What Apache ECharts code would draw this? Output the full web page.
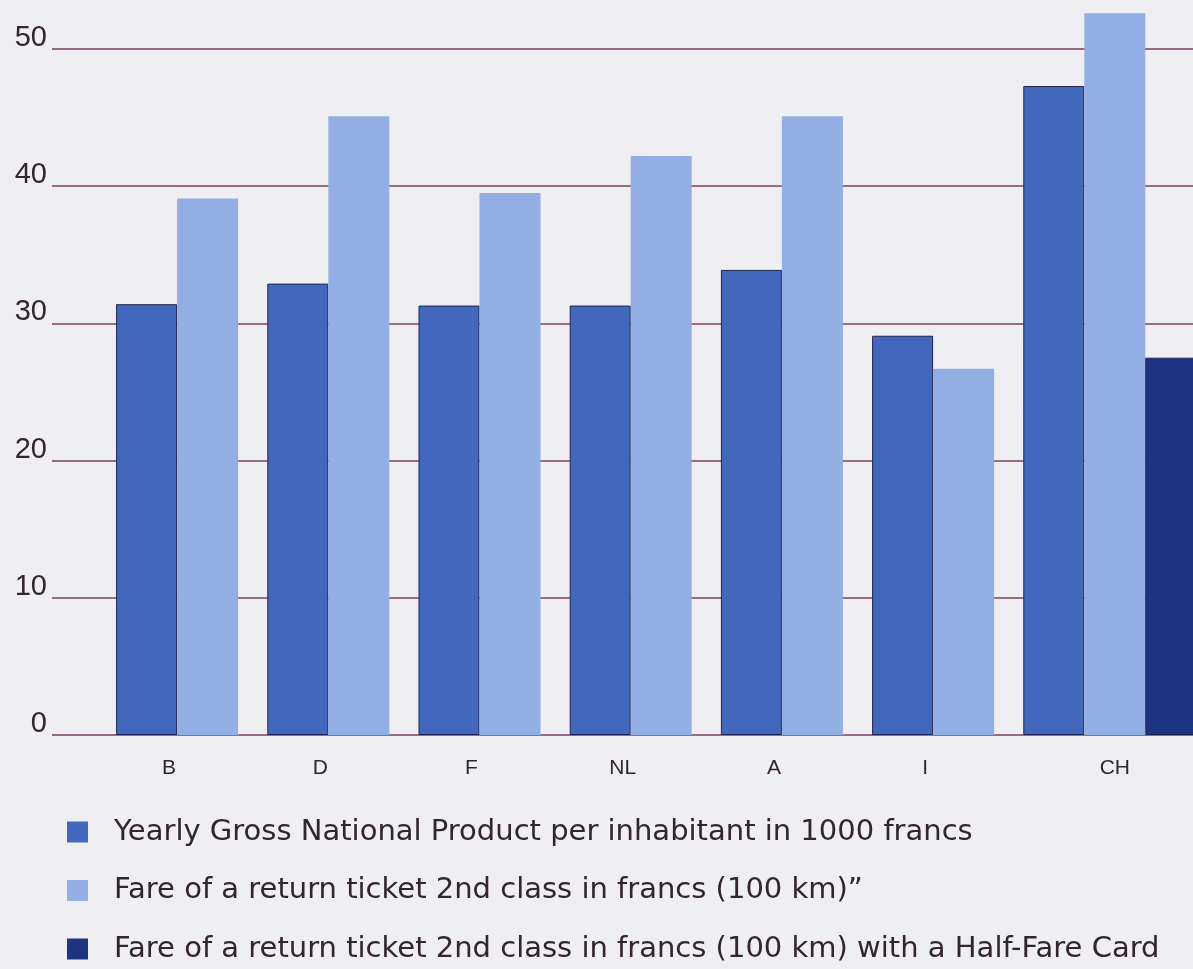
<!DOCTYPE html>
<html>
<head>
<meta charset="utf-8">
<script src="https://cdn.jsdelivr.net/npm/echarts@6/dist/echarts.min.js"></script>
<style>
  html, body { margin: 0; padding: 0; background: #efeff1; }
  #chart { width: 1193px; height: 969px; }
</style>
</head>
<body>
<div id="chart"></div>
<script>
// country codes along the x axis
const countries = ['B', 'D', 'F', 'NL', 'A', 'I', 'CH'];
// GNP per inhabitant, 1000 francs
const gnp = [31.4, 32.9, 31.3, 31.3, 33.9, 29.1, 47.3];
// return ticket 2nd class, 100 km
const fare = [39.1, 45.1, 39.5, 42.2, 45.1, 26.7, 52.6];
// same fare with a Half-Fare Card (only CH)
const halfFare = [null, null, null, null, null, null, 27.5];
const yTicks = [0, 10, 20, 30, 40, 50];

const seriesNames = [
  'Yearly Gross National Product per inhabitant in 1000 francs',
  'Fare of a return ticket 2nd class in francs (100 km)\u201D',
  'Fare of a return ticket 2nd class in francs (100 km) with a Half-Fare Card'
];

const font = '"Liberation Sans", Arial, sans-serif';
const legendFont = '"DejaVu Sans", "Liberation Sans", sans-serif';
const textColor = '#33242f';
const gridColor = '#7d3f64';

const chart = echarts.init(document.getElementById('chart'), null, { renderer: 'canvas' });

const option = {
  backgroundColor: '#efeff1',
  animation: false,
  grid: [
    // grid 0: only the horizontal rules and y labels
    { left: 52, right: 0, top: 49, bottom: 234 },
    // grid 1: the bars
    { left: 132, width: 1058.4, top: 49, bottom: 234 }
  ],
  xAxis: [
    { gridIndex: 0, type: 'value', min: 0, max: 1, show: false },
    {
      gridIndex: 1,
      type: 'category',
      data: countries,
      axisLine: { show: false },
      axisTick: { show: false },
      axisLabel: {
        margin: 23,
        formatter: (v, i) => (halfFare[i] == null ? '{s|' + v + '}' : '{c|' + v + '}'),
        rich: {
          s: { fontSize: 21, fontFamily: font, color: textColor, padding: [0, 77, 0, 0] },
          c: { fontSize: 21, fontFamily: font, color: textColor }
        }
      }
    }
  ],
  yAxis: [
    {
      gridIndex: 0,
      type: 'value',
      min: yTicks[0],
      max: yTicks[yTicks.length - 1],
      interval: 10,
      axisLine: { show: false },
      axisTick: { show: false },
      axisLabel: {
        margin: 5,
        fontSize: 29,
        lineHeight: 22,
        fontFamily: font,
        color: textColor,
        verticalAlign: 'bottom'
      },
      splitLine: { lineStyle: { color: gridColor, width: 1.5 } }
    },
    {
      gridIndex: 1,
      type: 'value',
      min: 0,
      max: 50,
      show: false
    }
  ],
  legend: {
    orient: 'vertical',
    left: 67,
    top: 817,
    padding: 0,
    icon: 'rect',
    itemWidth: 21,
    itemHeight: 21,
    itemGap: 28.5,
    itemStyle: { borderWidth: 0 },
    textStyle: {
      fontSize: 29,
      fontFamily: legendFont,
      color: textColor,
      lineHeight: 30,
      padding: [0, 0, 0, 21]
    },
    data: seriesNames
  },
  series: [
    {
      name: seriesNames[0],
      type: 'bar',
      xAxisIndex: 1,
      yAxisIndex: 1,
      data: gnp,
      barWidth: 61,
      barGap: '0%',
      clip: false,
      itemStyle: { color: '#4168bd', borderColor: '#1e2453', borderWidth: 1 }
    },
    {
      name: seriesNames[1],
      type: 'bar',
      xAxisIndex: 1,
      yAxisIndex: 1,
      data: fare,
      barWidth: 61,
      barGap: '0%',
      clip: false,
      itemStyle: { color: '#93aee2' }
    },
    {
      name: seriesNames[2],
      type: 'bar',
      xAxisIndex: 1,
      yAxisIndex: 1,
      data: halfFare,
      barWidth: 61,
      barGap: '0%',
      clip: false,
      itemStyle: { color: '#1f3383', borderColor: '#16214f', borderWidth: 1 }
    }
  ]
};

chart.setOption(option);
</script>
</body>
</html>
